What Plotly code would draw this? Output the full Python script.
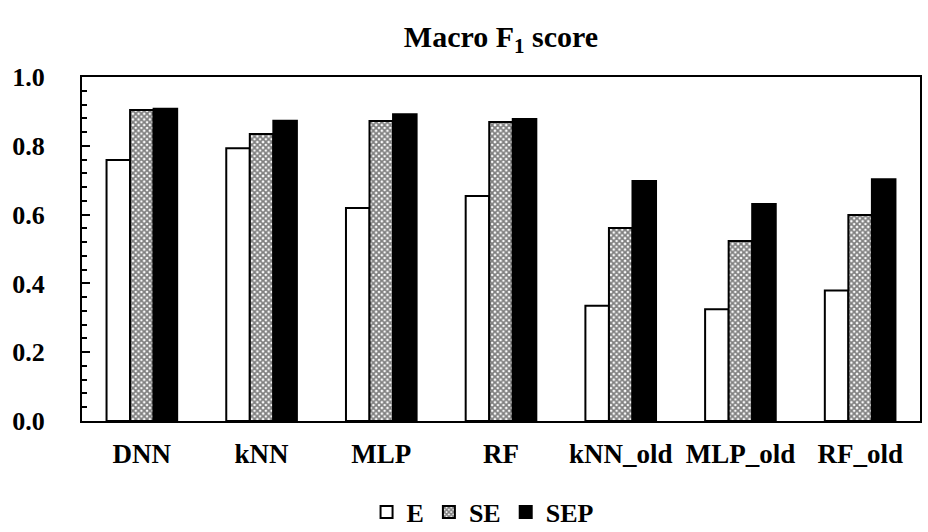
import plotly.graph_objects as go

models = ["DNN", "kNN", "MLP", "RF", "kNN_old", "MLP_old", "RF_old"]
score_e = [0.759, 0.793, 0.619, 0.654, 0.335, 0.325, 0.379]
score_se = [0.904, 0.834, 0.872, 0.869, 0.561, 0.523, 0.599]
score_sep = [0.908, 0.873, 0.892, 0.878, 0.698, 0.631, 0.703]
y_ticks = [0.0, 0.2, 0.4, 0.6, 0.8, 1.0]

FONT = "Liberation Serif, Times New Roman, serif"
outline = dict(color="black", width=2)

fig = go.Figure()
fig.add_trace(go.Bar(
    name="<b>E</b>", x=models, y=score_e,
    marker=dict(color="white", line=outline),
))
fig.add_trace(go.Bar(
    name="<b>SE</b>", x=models, y=score_se,
    marker=dict(
        color="white", line=outline,
        pattern=dict(shape="x", fgcolor="black", bgcolor="white",
                     size=4, solidity=0.7),
    ),
))
fig.add_trace(go.Bar(
    name="<b>SEP</b>", x=models, y=score_sep,
    marker=dict(color="black", line=outline),
))

fig.update_layout(
    width=928, height=532,
    paper_bgcolor="white", plot_bgcolor="white",
    margin=dict(l=82, r=8, t=77, b=111, autoexpand=False),
    barmode="group", bargap=0.41, bargroupgap=0,
    font=dict(family=FONT, size=26, color="black"),
    title=dict(
        text="<b>Macro F<sub>1</sub> score</b>",
        x=0.5, xref="paper", xanchor="center",
        y=1 - 36 / 532, yref="container", yanchor="middle",
        font=dict(size=30, family=FONT, color="black"),
    ),
    legend=dict(
        orientation="h", x=0.52, xanchor="center", xref="container",
        y=-0.265, yanchor="middle", yref="paper",
        font=dict(size=26, family=FONT, color="black"),
        itemwidth=30, tracegroupgap=0,
    ),
    showlegend=True,
)

fig.update_xaxes(
    showline=True, linecolor="black", linewidth=2, mirror=True,
    ticks="", tickfont=dict(size=27, family=FONT, color="black"),
    tickprefix="<b>", ticksuffix="</b>",
    ticklabelstandoff=8,
)
fig.update_yaxes(
    range=[0, 1.0], tickvals=y_ticks,
    ticktext=[f"<b>{v:.1f}</b>" for v in y_ticks],
    showline=True, linecolor="black", linewidth=2, mirror=True,
    showgrid=False, zeroline=False,
    ticks="inside", ticklen=8, tickwidth=2, tickcolor="black",
    minor=dict(ticks="inside", ticklen=5, tickwidth=1.5,
               tickcolor="black", dtick=0.04),
    tickfont=dict(size=26, family=FONT, color="black"),
    ticklabelstandoff=30,
)

fig.write_html("out.html")
